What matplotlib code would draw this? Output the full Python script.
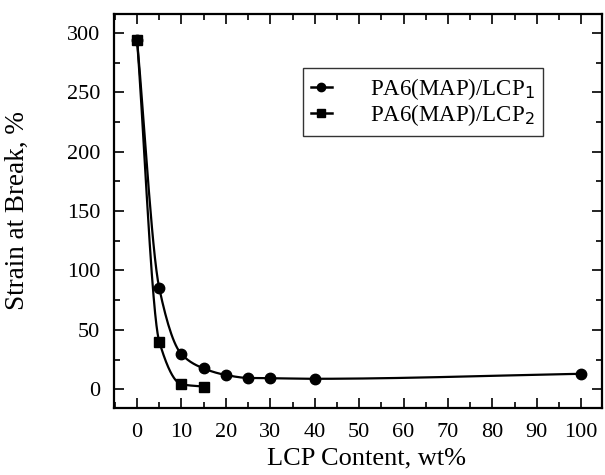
import numpy as np
import matplotlib.pyplot as plt
from matplotlib.ticker import MultipleLocator

plt.rcParams['font.family'] = ['Liberation Serif', 'DejaVu Serif']
plt.rcParams['mathtext.fontset'] = 'custom'
plt.rcParams['mathtext.rm'] = 'Liberation Serif'

# LCP content (wt%) and strain at break (%)
lcp1_x = [0, 5, 10, 15, 20, 25, 30, 40, 100]
lcp1_y = [294, 85, 29.5, 17.5, 12, 9.5, 9.3, 8.8, 13]
lcp2_x = [0, 5, 10, 15]
lcp2_y = [294, 40, 4.2, 2.2]


def smooth(x, y, n=300):
    # monotone cubic (pchip) just for drawing the curve through the points
    x = np.asarray(x, float)
    y = np.asarray(y, float)
    h = np.diff(x)
    d = np.diff(y) / h
    m = np.zeros_like(y)
    for k in range(1, len(x) - 1):
        if d[k - 1] * d[k] > 0:
            w1 = 2 * h[k] + h[k - 1]
            w2 = h[k] + 2 * h[k - 1]
            m[k] = (w1 + w2) / (w1 / d[k - 1] + w2 / d[k])
    m[0] = d[0]
    m[-1] = d[-1]
    xs = np.linspace(x[0], x[-1], n)
    i = np.clip(np.searchsorted(x, xs) - 1, 0, len(x) - 2)
    t = (xs - x[i]) / h[i]
    h00 = 2 * t**3 - 3 * t**2 + 1
    h10 = t**3 - 2 * t**2 + t
    h01 = -2 * t**3 + 3 * t**2
    h11 = t**3 - t**2
    ys = h00 * y[i] + h10 * h[i] * m[i] + h01 * y[i + 1] + h11 * h[i] * m[i + 1]
    return xs, ys


fig = plt.figure(figsize=(6.05, 4.75), dpi=100)
ax = fig.add_axes([114 / 605, 1 - 408 / 475, 488 / 605, 394 / 475])

sx, sy = smooth(lcp1_x, lcp1_y)
ax.plot(sx, sy, color='black', lw=1.6)
ax.plot(lcp1_x, lcp1_y, 'o', color='black', ms=7.5)
sx, sy = smooth(lcp2_x, lcp2_y)
ax.plot(sx, sy, color='black', lw=1.6)
ax.plot(lcp2_x, lcp2_y, 's', color='black', ms=7.5)

# legend handles
ax.plot([], [], '-o', color='black', lw=1.8, ms=6, label=r'PA6(MAP)/LCP$_{\mathsf{1}}$')
ax.plot([], [], '-s', color='black', lw=1.8, ms=6, label=r'PA6(MAP)/LCP$_{\mathsf{2}}$')
leg = ax.legend(loc='upper left', bbox_to_anchor=(0.387, 0.863), borderaxespad=0,
                fontsize=16.5, frameon=True, fancybox=False, edgecolor='black',
                handlelength=0.9, handletextpad=1.7, borderpad=0.35,
                labelspacing=0.0)
leg.get_frame().set_linewidth(1.0)

ax.set_xlim(-5.2, 104.7)
ax.set_ylim(-15.8, 316)
ax.xaxis.set_major_locator(MultipleLocator(10))
ax.xaxis.set_minor_locator(MultipleLocator(5))
ax.yaxis.set_major_locator(MultipleLocator(50))
ax.yaxis.set_minor_locator(MultipleLocator(25))
ax.tick_params(which='both', direction='in', top=True, right=True,
               labelsize=16, width=1.2)
ax.tick_params(axis='x', which='major', length=7, pad=11)
ax.tick_params(axis='y', which='major', length=7, pad=10)
ax.tick_params(which='minor', length=4)
for s in ax.spines.values():
    s.set_linewidth(1.6)

ax.set_xlabel('LCP Content, wt%', fontsize=19)
ax.set_ylabel('Strain at Break, %', fontsize=19.5)
ax.xaxis.set_label_coords(0.518, -0.1)
ax.yaxis.set_label_coords(-0.172, 0.5)

fig.savefig('out.png', dpi=100)
